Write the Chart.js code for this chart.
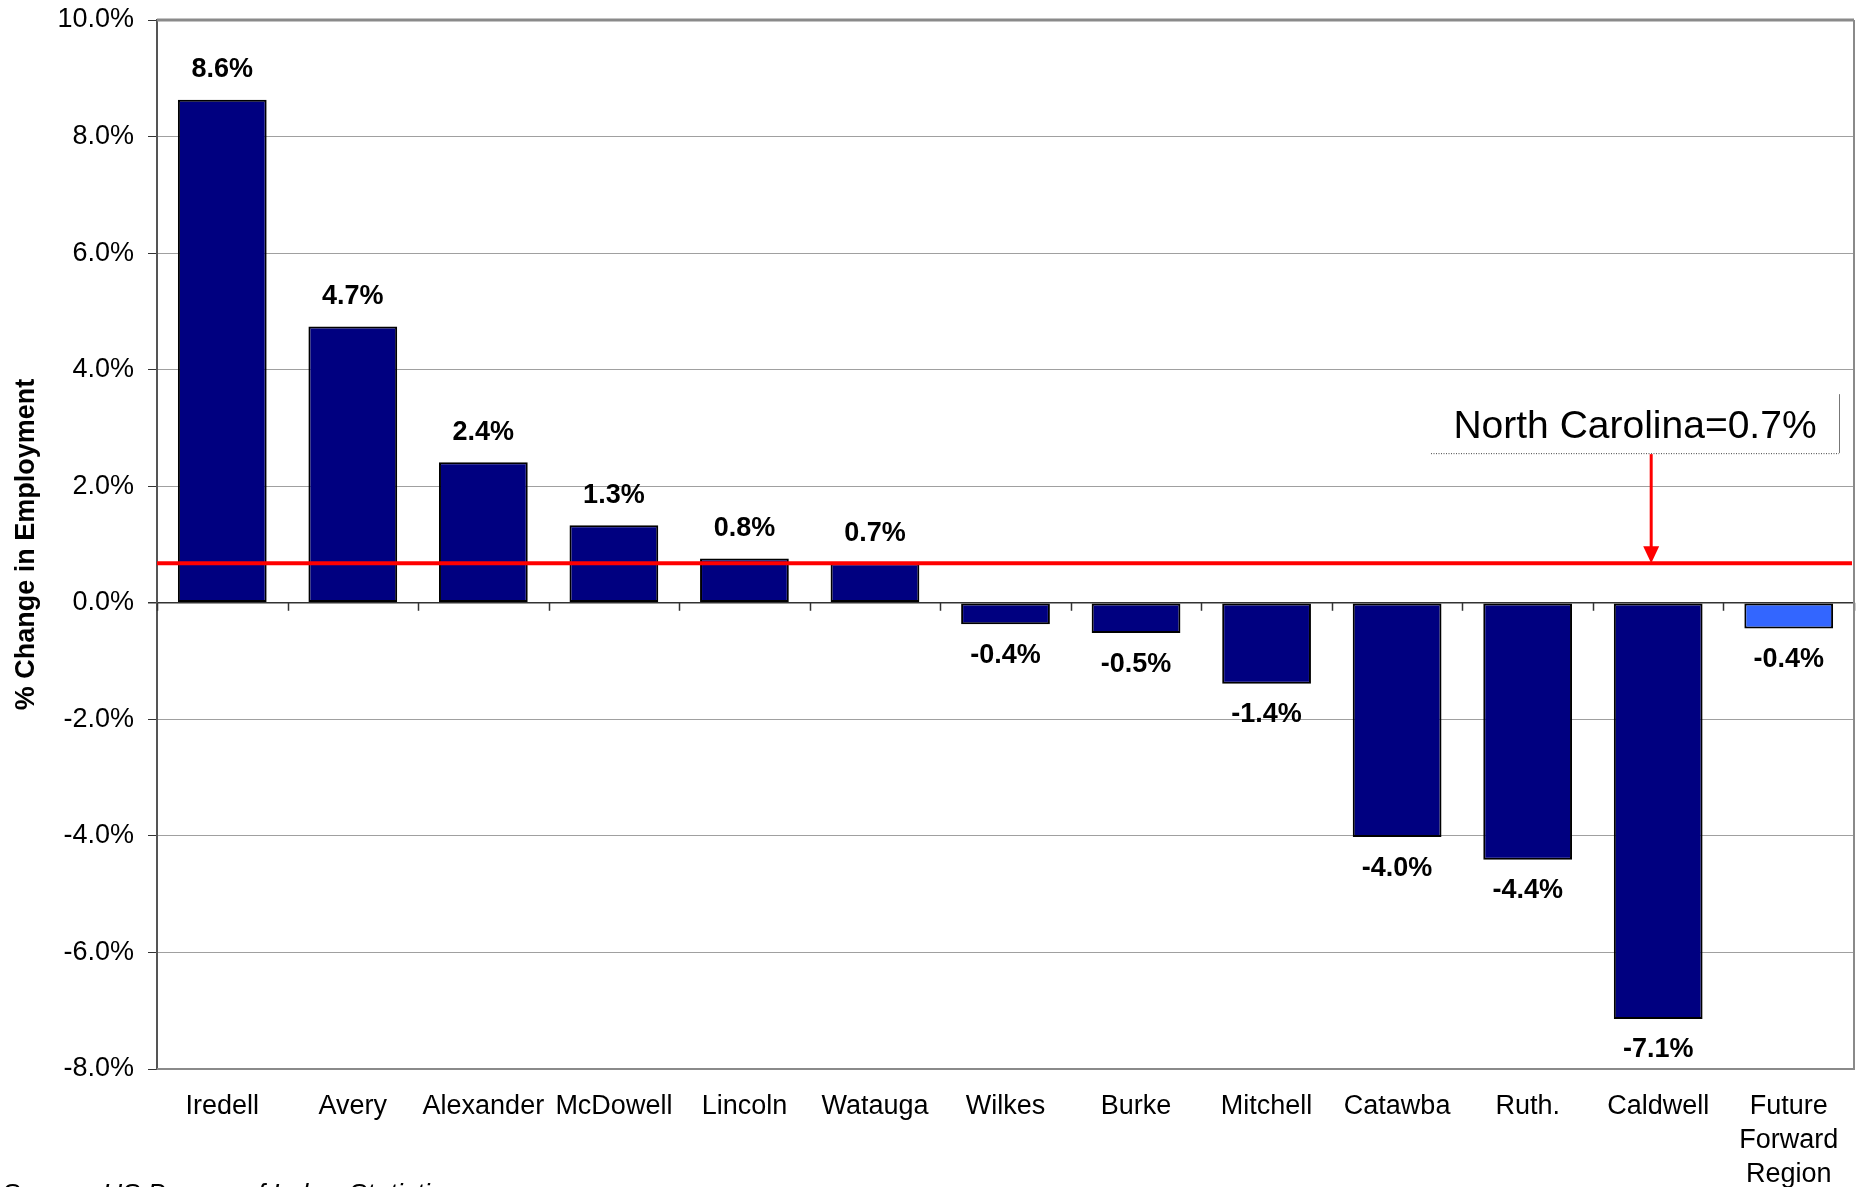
<!DOCTYPE html>
<html>
<head>
<meta charset="utf-8">
<script src="https://cdn.jsdelivr.net/npm/chart.js@4/dist/chart.umd.min.js"></script>
<style>
  html, body { margin: 0; padding: 0; background: #ffffff; overflow: hidden; }
  #wrap { width: 1864px; height: 1187px; position: relative; }
</style>
</head>
<body>
<div id="wrap"><canvas id="c" width="1864" height="1187"></canvas></div>
<script>
// ---- data ----
const categories = ["Iredell", "Avery", "Alexander", "McDowell", "Lincoln", "Watauga", "Wilkes", "Burke", "Mitchell", "Catawba", "Ruth.", "Caldwell", ["Future", "Forward", "Region"]];
const changeValues = [8.63, 4.74, 2.41, 1.33, 0.76, 0.68, -0.37, -0.52, -1.39, -4.02, -4.41, -7.14, -0.44];
const yTickValues = [-8, -6, -4, -2, 0, 2, 4, 6, 8, 10];
const ncValue = 0.68;
const ncLabel = "North Carolina=0.7%";
const sourceText = "Source: US Bureau of Labor Statistics";
const yAxisTitle = "% Change in Employment";

const FONT = '"Liberation Sans", Arial, Helvetica, sans-serif';

const overlay = {
  id: 'overlay',
  beforeDatasetsDraw(chart) {
    const {ctx, chartArea: a, scales: {x, y}} = chart;
    ctx.save();
    // zero line tick marks at category boundaries
    const y0 = y.getPixelForValue(0);
    ctx.strokeStyle = '#333';
    ctx.lineWidth = 1.5;
    const w = (a.right - a.left) / categories.length;
    for (let i = 0; i <= categories.length; i++) {
      const px = Math.round(a.left + w * i) + 0.5;
      ctx.beginPath();
      ctx.moveTo(px, y0);
      ctx.lineTo(px, y0 + 8);
      ctx.stroke();
    }
    ctx.restore();
  },
  afterDatasetsDraw(chart) {
    const {ctx, chartArea: a, scales: {x, y}} = chart;
    ctx.save();
    // frame top/right/bottom
    ctx.strokeStyle = '#8a8a8a';
    ctx.lineWidth = 3;
    ctx.beginPath();
    ctx.moveTo(a.left, a.top);
    ctx.lineTo(a.right, a.top);
    ctx.stroke();
    ctx.lineWidth = 2;
    ctx.beginPath();
    ctx.moveTo(a.right, a.top);
    ctx.lineTo(a.right, a.bottom);
    ctx.lineTo(a.left, a.bottom);
    ctx.stroke();

    // data labels
    const meta = chart.getDatasetMeta(0);
    ctx.fillStyle = '#000';
    ctx.font = 'bold 27px ' + FONT;
    ctx.textAlign = 'center';
    ctx.textBaseline = 'middle';
    meta.data.forEach((bar, i) => {
      const v = changeValues[i];
      const txt = v.toFixed(1) + '%';
      const ly = v >= 0 ? bar.y - 30 : bar.y + 31;
      ctx.fillText(txt, bar.x, ly);
    });

    // North Carolina line
    const yNC = y.getPixelForValue(ncValue);
    ctx.strokeStyle = '#ff0000';
    ctx.lineWidth = 4;
    ctx.beginPath();
    ctx.moveTo(a.left, yNC);
    ctx.lineTo(a.right - 2, yNC);
    ctx.stroke();

    // annotation box
    const boxRight = a.right - 15;
    const boxLeft = boxRight - 408;
    const boxTop = yNC - 169;
    const boxBottom = yNC - 110;
    ctx.strokeStyle = '#444';
    ctx.lineWidth = 1;
    ctx.setLineDash([1, 1.5]);
    ctx.beginPath();
    ctx.moveTo(boxLeft, boxBottom + 0.5);
    ctx.lineTo(boxRight, boxBottom + 0.5);
    ctx.stroke();
    ctx.setLineDash([]);
    ctx.strokeStyle = '#777';
    ctx.beginPath();
    ctx.moveTo(boxRight + 0.5, boxTop);
    ctx.lineTo(boxRight + 0.5, boxBottom);
    ctx.stroke();

    ctx.fillStyle = '#000';
    ctx.font = '39px ' + FONT;
    ctx.textAlign = 'center';
    ctx.textBaseline = 'middle';
    ctx.fillText(ncLabel, (boxLeft + boxRight) / 2, (boxTop + boxBottom) / 2 + 4);

    // arrow
    const ax = x.getPixelForValue(11) - 7;
    ctx.strokeStyle = '#ff0000';
    ctx.fillStyle = '#ff0000';
    ctx.lineWidth = 3;
    ctx.beginPath();
    ctx.moveTo(ax, boxBottom + 1);
    ctx.lineTo(ax, yNC - 16);
    ctx.stroke();
    ctx.beginPath();
    ctx.moveTo(ax - 8, yNC - 17);
    ctx.lineTo(ax + 8, yNC - 17);
    ctx.lineTo(ax, yNC);
    ctx.closePath();
    ctx.fill();

    // source note
    ctx.fillStyle = '#000';
    ctx.font = 'italic 27px ' + FONT;
    ctx.textAlign = 'left';
    ctx.textBaseline = 'alphabetic';
    ctx.fillText(sourceText, 2, 1203);
    ctx.restore();
  }
};

new Chart(document.getElementById('c'), {
  type: 'bar',
  data: {
    labels: categories,
    datasets: [{
      data: changeValues,
      backgroundColor: (c) => c.dataIndex === categories.length - 1 ? '#3366ff' : '#000080',
      borderColor: '#000000',
      borderWidth: 2,
      borderSkipped: false,
      barPercentage: 0.68,
      categoryPercentage: 1.0
    }]
  },
  options: {
    responsive: false,
    animation: false,
    devicePixelRatio: 1,
    layout: { padding: { left: 0, top: 20, right: 10, bottom: 0 } },
    plugins: { legend: { display: false }, title: { display: false }, tooltip: { enabled: false } },
    scales: {
      x: {
        grid: { display: false, drawTicks: false },
        border: { display: false },
        ticks: {
          color: '#000',
          font: { family: FONT, size: 27, lineHeight: 1.25 },
          padding: 21,
          maxRotation: 0,
          autoSkip: false
        },
        afterFit(scale) { scale.height = 118; scale.paddingLeft = 0; scale.paddingRight = 0; }
      },
      y: {
        min: -8,
        max: 10,
        afterBuildTicks(scale) { scale.ticks = yTickValues.map(v => ({ value: v })); },
        grid: {
          color: (c) => c.tick && c.tick.value === 0 ? '#333333' : '#a0a0a0',
          lineWidth: (c) => c.tick && c.tick.value === 0 ? 1.5 : 1,
          tickColor: '#333333',
          tickLength: 9,
          drawTicks: true
        },
        border: { display: true, color: '#555555', width: 2 },
        ticks: {
          color: '#000',
          font: { family: FONT, size: 27 },
          padding: 14,
          callback: (v) => Number(v).toFixed(1) + '%'
        },
        title: {
          display: true,
          text: yAxisTitle,
          color: '#000',
          font: { family: FONT, size: 27, weight: 'bold' },
          padding: { top: 10, bottom: 0 }
        },
        afterFit(scale) { scale.width = 157; scale.paddingTop = 0; scale.paddingBottom = 0; }
      }
    }
  },
  plugins: [overlay]
});
</script>
</body>
</html>
